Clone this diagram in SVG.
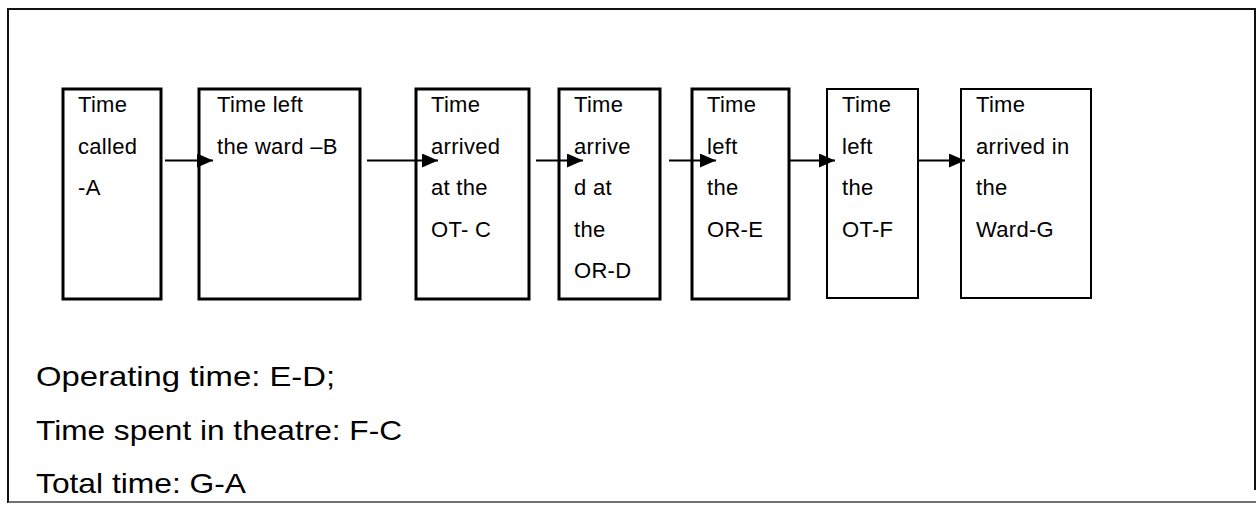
<svg xmlns="http://www.w3.org/2000/svg" width="1260" height="505" viewBox="0 0 1260 505">
  <style>
    .frame { fill: none; stroke: #111; stroke-width: 2; }
    .box { fill: #fff; stroke: #000; stroke-width: 3; }
    .box.thin { stroke-width: 2; }
    .label { font-family: "Liberation Sans", Arial, sans-serif; font-size: 22px; fill: #000; letter-spacing: 0.3px; }
    .note { font-family: "Liberation Sans", Arial, sans-serif; font-size: 28px; fill: #000; }
    .link { stroke: #000; stroke-width: 2; fill: none; marker-end: url(#head); }
  </style>
  <defs>
    <marker id="head" markerUnits="userSpaceOnUse" markerWidth="16" markerHeight="14" refX="16" refY="7" orient="auto">
      <path d="M0,0 L16,7 L0,14 Z" fill="#000"/>
    </marker>
  </defs>

  <rect width="1260" height="505" fill="#fff"/>

  <!-- outer frame -->
  <g id="frame">
    <line class="frame" x1="8" y1="9" x2="1256" y2="9"/>
    <line class="frame" x1="8" y1="8" x2="8" y2="503"/>
    <line class="frame" x1="1255" y1="8" x2="1255" y2="490"/>
    <line x1="8" y1="502" x2="1256" y2="502" stroke="#444" stroke-width="1.5"/>
  </g>

  <!-- stages -->
  <g id="node-a">
    <rect class="box" x="63" y="89" width="98" height="210"/>
    <text class="label"><tspan x="78" y="112">Time</tspan><tspan x="78" y="153.5">called</tspan><tspan x="78" y="195">-A</tspan></text>
  </g>
  <g id="node-b">
    <rect class="box" x="199" y="89" width="161" height="210"/>
    <text class="label"><tspan x="217" y="112">Time left</tspan><tspan x="217" y="153.5">the ward –B</tspan></text>
  </g>
  <g id="node-c">
    <rect class="box" x="416" y="89" width="113" height="210"/>
    <text class="label"><tspan x="431" y="112">Time</tspan><tspan x="431" y="153.5">arrived</tspan><tspan x="431" y="195">at the</tspan><tspan x="431" y="236.5">OT- C</tspan></text>
  </g>
  <g id="node-d">
    <rect class="box" x="559" y="89" width="101" height="210"/>
    <text class="label"><tspan x="574" y="112">Time</tspan><tspan x="574" y="153.5">arrive</tspan><tspan x="574" y="195">d at</tspan><tspan x="574" y="236.5">the</tspan><tspan x="574" y="278">OR-D</tspan></text>
  </g>
  <g id="node-e">
    <rect class="box" x="692" y="89" width="97" height="210"/>
    <text class="label"><tspan x="707" y="112">Time</tspan><tspan x="707" y="153.5">left</tspan><tspan x="707" y="195">the</tspan><tspan x="707" y="236.5">OR-E</tspan></text>
  </g>
  <g id="node-f">
    <rect class="box thin" x="827" y="89" width="91" height="209"/>
    <text class="label"><tspan x="842" y="112">Time</tspan><tspan x="842" y="153.5">left</tspan><tspan x="842" y="195">the</tspan><tspan x="842" y="236.5">OT-F</tspan></text>
  </g>
  <g id="node-g">
    <rect class="box thin" x="961" y="89" width="130" height="209"/>
    <text class="label"><tspan x="976" y="112">Time</tspan><tspan x="976" y="153.5">arrived in</tspan><tspan x="976" y="195">the</tspan><tspan x="976" y="236.5">Ward-G</tspan></text>
  </g>

  <!-- connectors -->
  <g id="connectors">
    <line class="link" x1="165" y1="160.5" x2="213" y2="160.5"/>
    <line class="link" x1="367" y1="160.5" x2="438" y2="160.5"/>
    <line class="link" x1="536" y1="160.5" x2="583" y2="160.5"/>
    <line class="link" x1="669" y1="160.5" x2="716" y2="160.5"/>
    <line class="link" x1="790" y1="160.5" x2="835" y2="160.5"/>
    <line class="link" x1="919" y1="160.5" x2="965" y2="160.5"/>
  </g>

  <!-- definitions of the intervals -->
  <g id="notes">
    <text class="note" x="36" y="386" textLength="299" lengthAdjust="spacingAndGlyphs">Operating time: E-D;</text>
    <text class="note" x="36" y="440" textLength="366" lengthAdjust="spacingAndGlyphs">Time spent in theatre: F-C</text>
    <text class="note" x="36" y="493" textLength="210" lengthAdjust="spacingAndGlyphs">Total time: G-A</text>
  </g>
</svg>
